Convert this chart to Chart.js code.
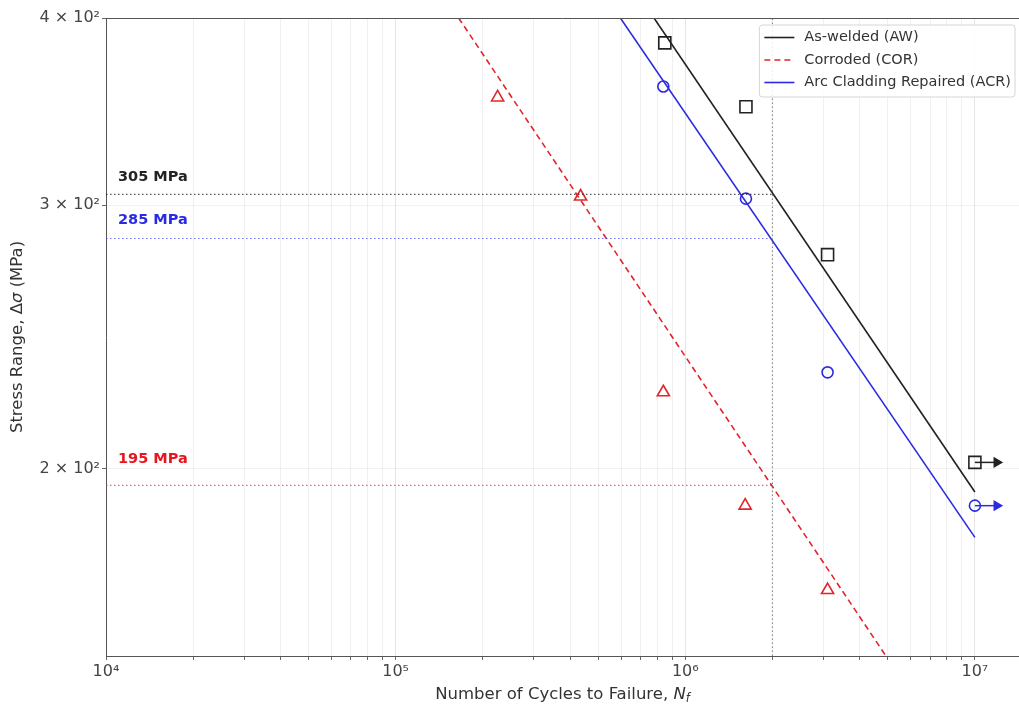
<!DOCTYPE html>
<html>
<head>
<meta charset="utf-8">
<script src="https://cdn.jsdelivr.net/npm/chart.js@4.4.1/dist/chart.umd.min.js"></script>
<style>
    html, body { margin: 0; padding: 0; background: #fff; overflow: hidden; }
    #wrap { width: 1019px; height: 708px; position: relative; }
</style>
</head>
<body>
<div id="wrap"><canvas id="snChart"></canvas></div>
<script>
// test data (cycles to failure vs stress range)
const awCycles = [8.5e5, 1.62e6, 3.1e6, 1.0e7];
const awStress = [385, 349, 278, 202];
const corCycles = [2.25e5, 4.35e5, 8.4e5, 1.61e6, 3.1e6];
const corStress = [354, 304, 225, 189, 166];
const acrCycles = [8.4e5, 1.62e6, 3.1e6, 1.0e7];
const acrStress = [360, 303, 232, 189];

// fitted S-N lines, end points
const awFitCycles = [7.8e5, 1.0e7];
const awFitStress = [400, 193];
const corFitCycles = [1.65e5, 4.93e6];
const corFitStress = [400, 150];
const acrFitCycles = [5.97e5, 1.0e7];
const acrFitStress = [400, 180];

// run-outs (did not fail at 1e7)
const runoutCycles = [1.0e7, 1.19e7];
const awRunoutStress = [202, 202];
const acrRunoutStress = [189, 189];

// stress range at 2 million cycles
const refCycles = 2e6;
const refLabels = ['305 MPa', '285 MPa', '195 MPa'];
const refStress = [305, 285, 195];

const xRange = [1e4, 1.42e7];
const yRange = [150, 400];
const yTickValues = [200, 300, 400];
const yTickLabels = ['2 \u00d7 10\u00b2', '3 \u00d7 10\u00b2', '4 \u00d7 10\u00b2'];
const xDecades = [4, 5, 6, 7];
const xDecadeLabels = ['10\u2074', '10\u2075', '10\u2076', '10\u2077'];

const BLACK = '#222222';
const RED = '#e3242b';
const BLUE = '#2b2be0';
const FONT = '"DejaVu Sans", sans-serif';

const pts = (xs, ys) => xs.map((x, i) => ({ x: x, y: ys[i] }));

const fitLine = (label, xs, ys, color, dash) => ({
    label: label,
    data: pts(xs, ys),
    showLine: true,
    borderColor: color,
    backgroundColor: color,
    borderWidth: 1.6,
    borderDash: dash,
    pointRadius: 0,
    inLegend: true,
});

const markers = (xs, ys, style, radius, color) => ({
    data: pts(xs, ys),
    showLine: false,
    pointStyle: style,
    pointRadius: radius,
    pointBorderColor: color,
    pointBackgroundColor: 'rgba(0,0,0,0)',
    pointBorderWidth: 1.6,
});

const arrow = (ys, color) => ({
    data: pts(runoutCycles, ys),
    showLine: true,
    borderColor: color,
    borderWidth: 1.5,
    pointStyle: 'triangle',
    pointRotation: 90,
    pointRadius: [0, 5],
    pointBorderColor: color,
    pointBackgroundColor: color,
});

const refColors = ['rgba(30,30,30,0.75)', 'rgba(60,60,230,0.7)', 'rgba(230,40,50,0.7)'];
const refTextColors = [BLACK, '#2a2ae6', '#e8141e'];

const refLines = refStress.map((s, i) => ({
    data: [{ x: xRange[0], y: s }, { x: refCycles, y: s }],
    showLine: true,
    borderColor: refColors[i],
    borderWidth: 1.1,
    borderDash: [1.5, 2.5],
    pointRadius: 0,
}));

const refVertical = {
    data: [{ x: refCycles, y: yRange[0] }, { x: refCycles, y: yRange[1] }],
    showLine: true,
    borderColor: 'rgba(110,110,110,0.8)',
    borderWidth: 1.1,
    borderDash: [1.5, 2.5],
    pointRadius: 0,
};

// custom legend, axis titles, top spine and threshold labels
const decorations = {
    id: 'decorations',
    afterDatasetsDraw(chart) {
        const ctx = chart.ctx;
        const area = chart.chartArea;
        const y = chart.scales.y;

        ctx.save();
        ctx.font = 'bold 14.5px ' + FONT;
        ctx.textBaseline = 'middle';
        ctx.textAlign = 'left';
        refStress.forEach((s, i) => {
            ctx.fillStyle = refTextColors[i];
            ctx.fillText(refLabels[i], area.left + 12, y.getPixelForValue(s + 8));
        });

        // legend
        const items = chart.data.datasets.filter(d => d.inLegend);
        ctx.font = '14.5px ' + FONT;
        const textW = Math.max(...items.map(d => ctx.measureText(d.label).width));
        const boxW = textW + 49;
        const boxH = 72;
        const bx = area.right - 4 - boxW;
        const by = area.top + 7;
        ctx.beginPath();
        ctx.roundRect(bx, by, boxW, boxH, 3);
        ctx.fillStyle = 'rgba(255,255,255,0.85)';
        ctx.fill();
        ctx.strokeStyle = '#d6d6d6';
        ctx.lineWidth = 1;
        ctx.stroke();
        items.forEach((d, i) => {
            const ly = by + 12.5 + i * 22.5;
            ctx.beginPath();
            ctx.setLineDash(d.borderDash || []);
            ctx.strokeStyle = d.borderColor;
            ctx.lineWidth = 1.6;
            ctx.moveTo(bx + 5, ly);
            ctx.lineTo(bx + 35, ly);
            ctx.stroke();
            ctx.setLineDash([]);
            ctx.fillStyle = '#333';
            ctx.fillText(d.label, bx + 45, ly);
        });
        ctx.restore();
    },
    afterDraw(chart) {
        const ctx = chart.ctx;
        const area = chart.chartArea;
        ctx.save();

        ctx.strokeStyle = '#555';
        ctx.lineWidth = 1;
        ctx.beginPath();
        ctx.moveTo(area.left, area.top + 0.5);
        ctx.lineTo(area.right, area.top + 0.5);
        ctx.stroke();

        ctx.fillStyle = '#333';
        ctx.textBaseline = 'middle';

        // x title with italic N_f
        const regular = '16.5px ' + FONT;
        const italic = 'italic 16.5px ' + FONT;
        const sub = 'italic 11.5px ' + FONT;
        const xText = 'Number of Cycles to Failure, ';
        ctx.font = regular;
        const w1 = ctx.measureText(xText).width;
        ctx.font = italic;
        const w2 = ctx.measureText('N').width;
        ctx.font = sub;
        const w3 = ctx.measureText('f').width;
        let tx = (area.left + area.right) / 2 - (w1 + w2 + w3) / 2;
        const ty = 695;
        ctx.textAlign = 'left';
        ctx.font = regular;
        ctx.fillText(xText, tx, ty);
        ctx.font = italic;
        ctx.fillText('N', tx + w1, ty);
        ctx.font = sub;
        ctx.fillText('f', tx + w1 + w2, ty + 4);

        // y title with italic sigma
        const p1 = 'Stress Range, \u0394';
        const p2 = '\u03c3';
        const p3 = ' (MPa)';
        ctx.font = regular;
        const a1 = ctx.measureText(p1).width;
        const a3 = ctx.measureText(p3).width;
        ctx.font = italic;
        const a2 = ctx.measureText(p2).width;
        ctx.translate(18, (area.top + area.bottom) / 2);
        ctx.rotate(-Math.PI / 2);
        let sx = -(a1 + a2 + a3) / 2;
        ctx.font = regular;
        ctx.fillText(p1, sx, 0);
        ctx.font = italic;
        ctx.fillText(p2, sx + a1, 0);
        ctx.font = regular;
        ctx.fillText(p3, sx + a1 + a2, 0);
        ctx.restore();
    },
};

document.addEventListener('DOMContentLoaded', () => {
    const canvas = document.getElementById('snChart');

    new Chart(canvas, {
        type: 'scatter',
        data: {
            datasets: [
                refVertical,
                ...refLines,
                fitLine('As-welded (AW)', awFitCycles, awFitStress, BLACK, []),
                fitLine('Corroded (COR)', corFitCycles, corFitStress, RED, [6, 4]),
                fitLine('Arc Cladding Repaired (ACR)', acrFitCycles, acrFitStress, BLUE, []),
                markers(awCycles, awStress, 'rect', 8.5, BLACK),
                markers(corCycles, corStress, 'triangle', 7, RED),
                markers(acrCycles, acrStress, 'circle', 5.5, BLUE),
                arrow(awRunoutStress, BLACK),
                arrow(acrRunoutStress, BLUE),
            ],
        },
        options: {
            responsive: true,
            maintainAspectRatio: false,
            animation: false,
            layout: {
                autoPadding: false,
                padding: { top: 18, right: 0, bottom: 0, left: 0 },
            },
            plugins: {
                legend: { display: false },
                tooltip: { enabled: false },
            },
            scales: {
                x: {
                    type: 'logarithmic',
                    min: xRange[0],
                    max: xRange[1],
                    afterBuildTicks: (scale) => {
                        const ticks = [];
                        xDecades.forEach((d) => {
                            for (let k = 1; k <= 9; k++) {
                                const v = k * Math.pow(10, d);
                                if (v >= xRange[0] && v <= xRange[1]) {
                                    ticks.push({ value: v, major: k === 1 });
                                }
                            }
                        });
                        scale.ticks = ticks;
                    },
                    afterFit: (scale) => {
                        scale.height = 52;
                        scale.paddingLeft = 0;
                        scale.paddingRight = 0;
                    },
                    ticks: {
                        autoSkip: false,
                        maxRotation: 0,
                        padding: 2,
                        color: '#444',
                        font: { family: FONT, size: 16 },
                        callback: (value) => {
                            const i = xDecades.findIndex(d => Math.abs(value - Math.pow(10, d)) < 1);
                            return i >= 0 ? xDecadeLabels[i] : '';
                        },
                    },
                    grid: {
                        color: (c) => (c.tick && c.tick.major ? 'rgba(0,0,0,0.10)' : 'rgba(0,0,0,0.06)'),
                        tickColor: '#666',
                        tickLength: 4,
                    },
                    border: { color: '#555', width: 1 },
                },
                y: {
                    type: 'logarithmic',
                    min: yRange[0],
                    max: yRange[1],
                    afterBuildTicks: (scale) => {
                        scale.ticks = yTickValues.map(v => ({ value: v, major: true }));
                    },
                    afterFit: (scale) => {
                        scale.width = 106;
                    },
                    ticks: {
                        autoSkip: false,
                        padding: 2,
                        color: '#444',
                        font: { family: FONT, size: 16 },
                        callback: (value) => {
                            const i = yTickValues.indexOf(value);
                            return i >= 0 ? yTickLabels[i] : '';
                        },
                    },
                    grid: {
                        color: 'rgba(0,0,0,0.05)',
                        tickColor: '#666',
                        tickLength: 4,
                    },
                    border: { color: '#555', width: 1 },
                },
            },
        },
        plugins: [decorations],
    });
});
</script>
</body>
</html>
